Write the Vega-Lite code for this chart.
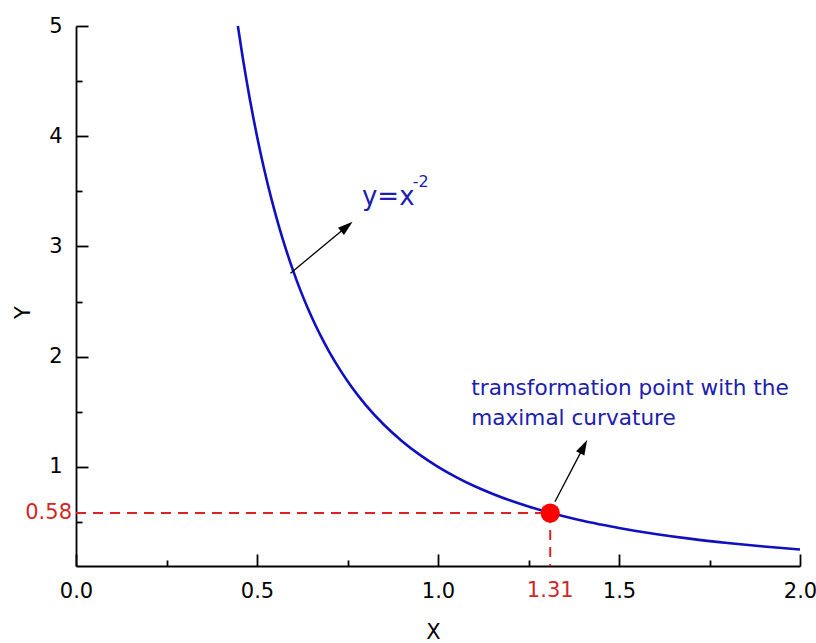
{
  "$schema": "https://vega.github.io/schema/vega-lite/v6.json",
  "width": 724,
  "height": 540,
  "autosize": "none",
  "padding": {"left": 76, "top": 26, "right": 16, "bottom": 77},
  "background": "white",
  "config": {
    "view": {"stroke": null},
    "font": "DejaVu Sans"
  },
  "datasets": {
    "curve": [
      {"x": 0.4472, "y": 5.0}, {"x": 0.46, "y": 4.726}, {"x": 0.47, "y": 4.527}, {"x": 0.48, "y": 4.34},
      {"x": 0.49, "y": 4.165}, {"x": 0.5, "y": 4.0}, {"x": 0.52, "y": 3.698}, {"x": 0.54, "y": 3.429},
      {"x": 0.56, "y": 3.189}, {"x": 0.58, "y": 2.973}, {"x": 0.6, "y": 2.778}, {"x": 0.62, "y": 2.601},
      {"x": 0.64, "y": 2.441}, {"x": 0.66, "y": 2.296}, {"x": 0.68, "y": 2.163}, {"x": 0.7, "y": 2.041},
      {"x": 0.73, "y": 1.877}, {"x": 0.76, "y": 1.731}, {"x": 0.8, "y": 1.5625}, {"x": 0.85, "y": 1.384},
      {"x": 0.9, "y": 1.235}, {"x": 0.95, "y": 1.108}, {"x": 1.0, "y": 1.0}, {"x": 1.05, "y": 0.907},
      {"x": 1.1, "y": 0.826}, {"x": 1.15, "y": 0.756}, {"x": 1.2, "y": 0.694}, {"x": 1.25, "y": 0.64},
      {"x": 1.31, "y": 0.583}, {"x": 1.35, "y": 0.549}, {"x": 1.4, "y": 0.51}, {"x": 1.45, "y": 0.476},
      {"x": 1.5, "y": 0.444}, {"x": 1.6, "y": 0.391}, {"x": 1.7, "y": 0.346}, {"x": 1.8, "y": 0.309},
      {"x": 1.9, "y": 0.277}, {"x": 2.0, "y": 0.25}
    ],
    "dashes": [
      {"x": 0, "x2": 1.31, "y": 0.58, "y2": 0.58},
      {"x": 1.31, "x2": 1.31, "y": 0.58, "y2": 0.1}
    ],
    "point": [{"x": 1.31, "y": 0.58}],
    "arrows": [
      {"x": 0.5925, "y": 2.757, "x2": 0.744, "y2": 3.169, "angle": 50.7},
      {"x": 1.323, "y": 0.683, "x2": 1.4, "y2": 1.167, "angle": 27.6}
    ],
    "notes": [
      {"x": 1.092, "y": 1.651, "text": "transformation point with the"},
      {"x": 1.092, "y": 1.378, "text": "maximal curvature"}
    ],
    "formula": [{"x": 0.79, "y": 3.374, "text": "y=x"}],
    "sup": [{"x": 0.93, "y": 3.54, "text": "-2"}],
    "redy": [{"x": 0, "y": 0.58, "text": "0.58"}],
    "redx": [{"x": 1.31, "y": 0.1, "text": "1.31"}]
  },
  "encoding": {
    "x": {
      "field": "x", "type": "quantitative",
      "scale": {"domain": [0, 2], "nice": false, "zero": false},
      "axis": {
        "title": "X",
        "values": [0, 0.25, 0.5, 0.75, 1, 1.25, 1.5, 1.75, 2],
        "labelExpr": "datum.value % 0.5 == 0 ? format(datum.value, '.1f') : ''",
        "grid": false,
        "domainColor": "black", "domainWidth": 1.8,
        "tickColor": "black", "tickWidth": 1.8,
        "tickSize": {"condition": {"test": "datum.value % 0.5 != 0", "value": -6}, "value": -12},
        "labelPadding": 26.5,
        "labelFont": "DejaVu Sans", "labelFontSize": 21, "labelColor": "black",
        "labelFlush": false, "labelOverlap": false,
        "titleFont": "DejaVu Sans", "titleFontSize": 21, "titleFontWeight": "normal", "titleColor": "black",
        "titleX": 357, "titleY": 66, "titleBaseline": "middle"
      }
    },
    "y": {
      "field": "y", "type": "quantitative",
      "scale": {"domain": [0.1, 5], "nice": false, "zero": false},
      "axis": {
        "title": "Y",
        "values": [0.5, 1, 1.5, 2, 2.5, 3, 3.5, 4, 4.5, 5],
        "labelExpr": "datum.value % 1 == 0 ? format(datum.value, 'd') : ''",
        "grid": false,
        "domainColor": "black", "domainWidth": 1.8,
        "tickColor": "black", "tickWidth": 1.8,
        "tickSize": {"condition": {"test": "datum.value % 1 != 0", "value": -6}, "value": -12},
        "labelPadding": 26,
        "labelFont": "DejaVu Sans", "labelFontSize": 21, "labelColor": "black",
        "labelFlush": false, "labelOverlap": false,
        "titleFont": "DejaVu Sans", "titleFontSize": 21, "titleFontWeight": "normal", "titleColor": "black",
        "titleX": -53, "titleY": 286, "titleBaseline": "middle", "titleAngle": -90
      }
    }
  },
  "layer": [
    {
      "data": {"name": "dashes"},
      "mark": {"type": "rule", "color": "#dd2222", "strokeWidth": 2, "strokeDash": [10, 7]},
      "encoding": {"x2": {"field": "x2"}, "y2": {"field": "y2"}}
    },
    {
      "data": {"name": "curve"},
      "mark": {"type": "line", "color": "#1010c0", "strokeWidth": 2.6, "interpolate": "monotone"},
      "encoding": {}
    },
    {
      "data": {"name": "point"},
      "mark": {"type": "circle", "color": "#ff0000", "opacity": 1, "size": 370},
      "encoding": {}
    },
    {
      "data": {"name": "arrows"},
      "mark": {"type": "rule", "color": "black", "strokeWidth": 1.3},
      "encoding": {"x2": {"field": "x2"}, "y2": {"field": "y2"}}
    },
    {
      "data": {"name": "arrows"},
      "mark": {"type": "point", "shape": "M0,-1L0.5,0.6L-0.5,0.6Z", "filled": true, "color": "black", "opacity": 1, "size": 350},
      "encoding": {
        "x": {"field": "x2", "type": "quantitative"},
        "y": {"field": "y2", "type": "quantitative"},
        "angle": {"field": "angle", "type": "quantitative", "scale": null}
      }
    },
    {
      "data": {"name": "notes"},
      "mark": {"type": "text", "align": "left", "baseline": "alphabetic", "font": "DejaVu Sans", "fontSize": 21.6, "color": "#2020b0"},
      "encoding": {"text": {"field": "text"}}
    },
    {
      "data": {"name": "formula"},
      "mark": {"type": "text", "align": "left", "baseline": "alphabetic", "font": "DejaVu Sans", "fontSize": 26, "color": "#2020b0"},
      "encoding": {"text": {"field": "text"}}
    },
    {
      "data": {"name": "sup"},
      "mark": {"type": "text", "align": "left", "baseline": "alphabetic", "font": "DejaVu Sans", "fontSize": 16, "color": "#2020b0"},
      "encoding": {"text": {"field": "text"}}
    },
    {
      "data": {"name": "redy"},
      "mark": {"type": "text", "align": "right", "baseline": "middle", "dx": -4, "font": "DejaVu Sans", "fontSize": 21, "color": "#d02828"},
      "encoding": {"text": {"field": "text"}}
    },
    {
      "data": {"name": "redx"},
      "mark": {"type": "text", "align": "center", "baseline": "top", "dy": 14, "font": "DejaVu Sans", "fontSize": 21, "color": "#d02828"},
      "encoding": {"text": {"field": "text"}}
    }
  ]
}
